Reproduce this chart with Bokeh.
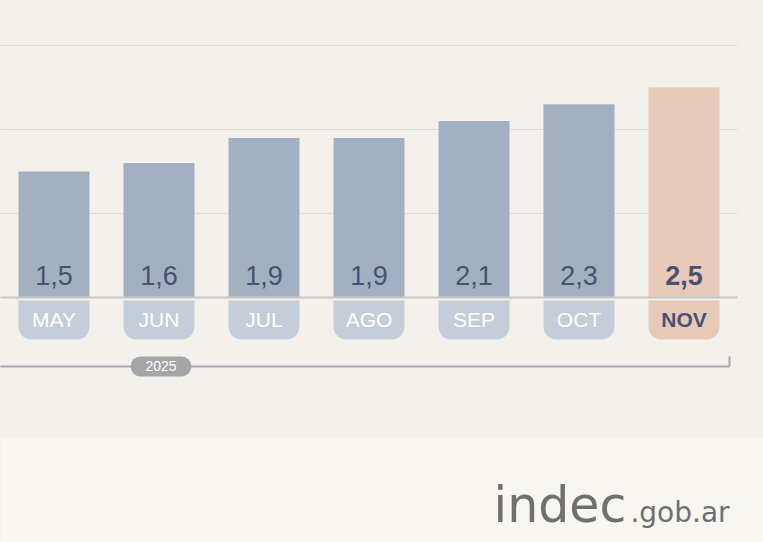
from bokeh.plotting import figure
from bokeh.models import Range1d, ColumnDataSource, BoxAnnotation, GlobalInlineStyleSheet
from bokeh.core.properties import value
from bokeh.embed import file_html
from bokeh.resources import INLINE

months = ["MAY", "JUN", "JUL", "AGO", "SEP", "OCT", "NOV"]
values = [1.5, 1.6, 1.9, 1.9, 2.1, 2.3, 2.5]
labels = ["1,5", "1,6", "1,9", "1,9", "2,1", "2,3", "2,5"]
grid_values = [1, 2, 3]
year_label = "2025"

BG = "#F4F1EC"
BAR = "#A3B0C1"
TAB = "#C5CDD8"
HI_BAR = "#E7CAB9"
HI_TAB = "#E7C9B8"
NAVY = "#4A5273"
FONT = "Liberation Sans"

n = len(months)
xs = list(range(n))
bar_colors = [BAR] * (n - 1) + [HI_BAR]
tab_colors = [TAB] * (n - 1) + [HI_TAB]
mlab_colors = ["#FFFFFF"] * (n - 1) + [NAVY]
mlab_styles = ["normal"] * (n - 1) + ["bold"]
vlab_styles = ["normal"] * (n - 1) + ["bold"]

src = ColumnDataSource(dict(x=xs, v=values, lab=labels, m=months,
                            bc=bar_colors, tc=tab_colors, mc=mlab_colors,
                            ms=mlab_styles, vs=vlab_styles))

W, H = 763, 542
px_x = 105.0
px_y = 84.0
x0 = -0.5095
y1 = 3.5357
p = figure(width=W, height=H, output_backend="svg", toolbar_location=None,
           x_range=Range1d(x0, x0 + W / px_x), y_range=Range1d(y1 - H / px_y, y1),
           min_border=0, outline_line_color=None,
           background_fill_color=BG, border_fill_color=BG)
p.axis.visible = False
p.grid.visible = False

# lighter bottom band
p.add_layout(BoxAnnotation(top=-1.667, fill_color="#F8F6F0", fill_alpha=1, line_color=None, level="underlay"))

line_end = 6.509
for g in grid_values:
    p.segment(x0=[-1], y0=[g], x1=[line_end], y1=[g], line_color="#DEDBD6", line_width=1)

p.vbar(x="x", top="v", bottom=0, width=0.676, fill_color="bc", line_color=None, source=src)
p.segment(x0=[-1], y0=[0], x1=[line_end], y1=[0], line_color="#C9C7C4", line_width=2)

p.vbar(x="x", top=-0.036, bottom=-0.5, width=0.676, fill_color="tc", line_color=None,
       border_radius=(0, 0, 13, 13), source=src)

p.text(x="x", y=0.256, text="lab", text_align="center", text_baseline="middle",
       text_font=value(FONT), text_font_size="27px", text_color=NAVY,
       text_font_style="vs", source=src)
p.text(x="x", y=-0.256, text="m", text_align="center", text_baseline="middle",
       text_font=value(FONT), text_font_size="21px", text_color="mc",
       text_font_style="ms", source=src)

# year bracket
p.segment(x0=[-1], y0=[-0.821], x1=[6.433], y1=[-0.821], line_color="#A9A9A9", line_width=2)
p.segment(x0=[6.433], y0=[-0.821], x1=[6.433], y1=[-0.70], line_color="#A9A9A9", line_width=2)
p.rect(x=[1.019], y=[-0.821], width=0.58, height=0.24, fill_color="#A5A5A5", line_color=None,
       border_radius=10)
p.text(x=[1.019], y=[-0.821], text=[year_label], text_align="center", text_baseline="middle",
       text_font=value(FONT), text_font_size="14px", text_color="#FFFFFF")

# logo
p.text(x=[4.186], y=[-2.476], text=["indec"], text_font=value("DejaVu Sans"), text_font_size="49px",
       text_color="#707070", text_baseline="middle", text_align="left")
p.text(x=[5.49], y=[-2.565], text=[".gob.ar"], text_font=value("DejaVu Sans"), text_font_size="28px",
       text_color="#707070", text_baseline="middle", text_align="left")

p.stylesheets = [GlobalInlineStyleSheet(css="body{background:%s;}" % BG)]

open("out.html", "w").write(file_html(p, INLINE))
